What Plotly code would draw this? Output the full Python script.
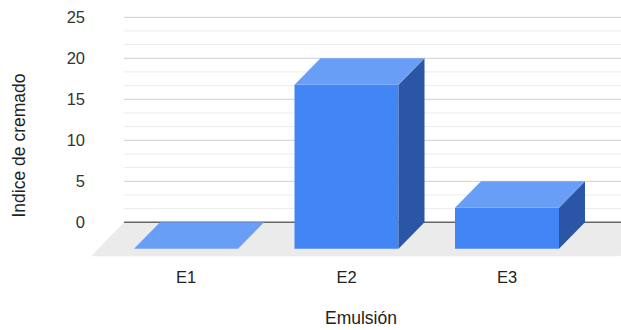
import plotly.graph_objects as go

# ---- data ----
categories = ["E1", "E2", "E3"]
values = [0, 20, 5]
y_ticks = [0, 5, 10, 15, 20, 25]
x_title = "Emulsión"
y_title = "Indice de cremado"

# ---- styles / geometry ----
FRONT = "#4285f4"
TOP = "#689ef6"
SIDE = "#2b56a6"
FLOOR = "#ebebeb"
MAJOR = "#cfcfcf"
MINOR = "#ebebeb"
ZERO = "#666666"
FONT = "Arial, Liberation Sans, sans-serif"

W = 0.648                 # bar width (category units)
BDX, BDY = 0.162, 3.23    # bar depth offset (x units, value units)
FDX, FDY = -0.206, -4.146 # floor front offset from back wall
WALL_X0 = -0.386          # left edge of the back wall
X_RANGE = [-0.6106, 2.7103]
Y_RANGE = [-4.354, 25.89]

fig = go.Figure()

# back-wall grid lines
xs_maj, ys_maj, xs_min, ys_min = [], [], [], []
for a, b in zip(y_ticks[:-1], y_ticks[1:]):
    for k in (1, 2):
        yv = a + (b - a) * k / 3
        xs_min += [WALL_X0, X_RANGE[1], None]
        ys_min += [yv, yv, None]
    xs_maj += [WALL_X0, X_RANGE[1], None]
    ys_maj += [b, b, None]
fig.add_trace(go.Scatter(x=xs_min, y=ys_min, mode="lines",
                         line=dict(color=MINOR, width=1), hoverinfo="skip"))
fig.add_trace(go.Scatter(x=xs_maj, y=ys_maj, mode="lines",
                         line=dict(color=MAJOR, width=1), hoverinfo="skip"))

# floor
xr = X_RANGE[1] + 0.2
fig.add_trace(go.Scatter(
    x=[WALL_X0, xr, xr + FDX, WALL_X0 + FDX, WALL_X0],
    y=[0, 0, FDY, FDY, 0],
    mode="lines", fill="toself", fillcolor=FLOOR,
    line=dict(width=0, color=FLOOR), hoverinfo="skip"))

# zero line on the wall
fig.add_trace(go.Scatter(x=[WALL_X0, X_RANGE[1]], y=[y_ticks[0], y_ticks[0]],
                         mode="lines", line=dict(color=ZERO, width=1.5),
                         hoverinfo="skip"))

# 3D bars
def face(xs, ys, color):
    fig.add_trace(go.Scatter(x=xs + [xs[0]], y=ys + [ys[0]], mode="lines",
                             fill="toself", fillcolor=color,
                             line=dict(width=0, color=color), hoverinfo="skip"))

for i, v in enumerate(values):
    x0, x1 = i - W / 2, i + W / 2
    yb, yt = -BDY, v - BDY
    if v > 0:
        face([x0, x1, x1, x0], [yb, yb, yt, yt], FRONT)
        face([x1, x1 + BDX, x1 + BDX, x1], [yb, 0, v, yt], SIDE)
    face([x0, x1, x1 + BDX, x0 + BDX], [yt, yt, v, v], TOP)

fig.update_layout(
    width=621, height=330,
    margin=dict(l=88, r=0, t=10, b=72),
    paper_bgcolor="white", plot_bgcolor="white",
    showlegend=False, hovermode=False,
    font=dict(family=FONT, size=16.5, color="#222222"),
    xaxis=dict(range=X_RANGE, tickvals=list(range(len(categories))),
               ticktext=categories, showgrid=False, zeroline=False,
               showline=False, ticks="", ticklabelstandoff=7,
               tickfont=dict(size=16.5, color="#222222"), fixedrange=True),
    yaxis=dict(range=Y_RANGE, tickvals=y_ticks, showgrid=False,
               zeroline=False, showline=False, ticks="",
               ticklabelstandoff=2,
               tickfont=dict(size=16.5, color="#333333"), fixedrange=True),
    annotations=[
        dict(text=x_title, xref="paper", yref="paper",
             x=(361 - 88) / 533, y=(258 - 318) / 248,
             xanchor="center", yanchor="middle", showarrow=False,
             font=dict(size=17.5, color="#222222")),
        dict(text=y_title, xref="paper", yref="paper",
             x=(18.5 - 88) / 533, y=(258 - 146) / 248, textangle=-90,
             xanchor="center", yanchor="middle", showarrow=False,
             font=dict(size=17.5, color="#222222")),
    ],
)

fig.write_html("out.html")
